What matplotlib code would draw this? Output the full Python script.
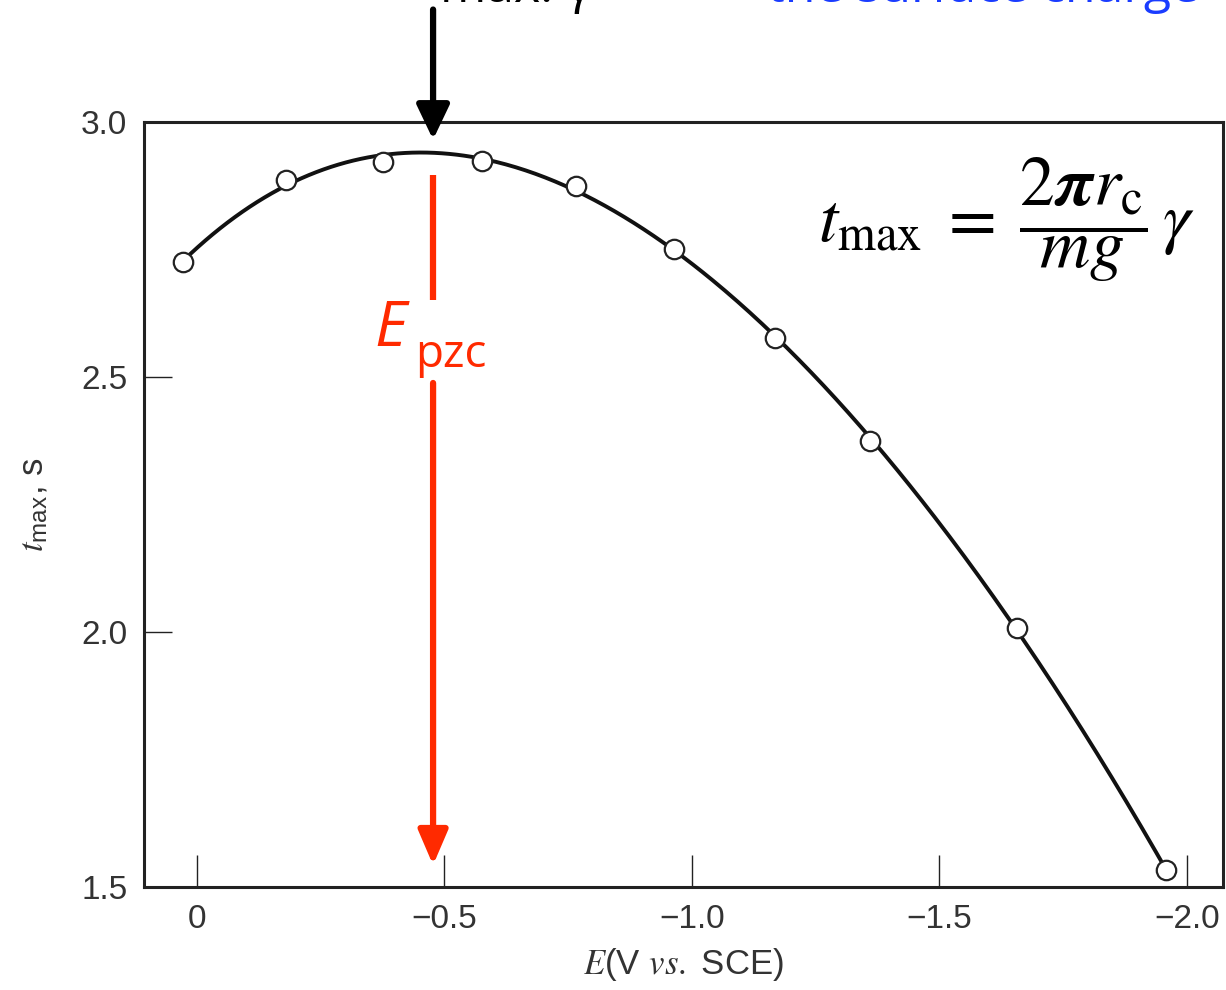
import numpy as np
import matplotlib
matplotlib.use("Agg")
import matplotlib.pyplot as plt

# data
E_vals = [0.028, -0.180, -0.376, -0.576, -0.766, -0.964, -1.168, -1.360, -1.657, -1.958]
t_vals = [2.725, 2.886, 2.922, 2.924, 2.875, 2.751, 2.576, 2.375, 2.008, 1.533]
x_ticks = [0, -0.5, -1.0, -1.5, -2.0]
x_tick_labels = ["0", "\u22120.5", "\u22121.0", "\u22121.5", "\u22122.0"]
y_ticks = [1.5, 2.0, 2.5, 3.0]
y_tick_labels = ["1.5", "2.0", "2.5", "3.0"]
E_pzc = -0.477

plt.rcParams['font.family'] = ['Liberation Sans', 'DejaVu Sans']
plt.rcParams['mathtext.fontset'] = 'stix'

fig = plt.figure(figsize=(12.26, 9.9), dpi=100)
ax = fig.add_axes([0.1175, 0.104, 0.880, 0.773])

# smooth fitted curve through the measured points
coef = np.polyfit(E_vals, t_vals, 4)
xs = np.linspace(E_vals[0], E_vals[-1], 400)
ax.plot(xs, np.polyval(coef, xs), color='#111111', lw=2.8, zorder=2)
ax.plot(E_vals, t_vals, 'o', ms=14, mfc='white', mec='#222222', mew=1.6, zorder=3)

ax.set_xlim(0.107, -2.073)
ax.set_ylim(1.5, 3.0)
ax.set_xticks(x_ticks)
ax.set_xticklabels(x_tick_labels)
ax.set_yticks(y_ticks)
ax.set_yticklabels(y_tick_labels)
ax.tick_params(axis='both', direction='in', colors='#222222', labelcolor='#333333',
               labelsize=24, width=1.0)
ax.tick_params(axis='y', length=20, pad=12)
ax.tick_params(axis='x', length=23, pad=12)
for s in ax.spines.values():
    s.set_linewidth(2.2)
    s.set_color('#222222')

ax.set_xlabel(r"$E$(V $vs.$ SCE)", fontsize=25, color='#333333', labelpad=8)
ax.set_ylabel(r"$t_{\mathregular{max}}$, s", fontsize=25, color='#333333', labelpad=22)

# formula
ax.text(0.799, 0.872, r"$t_{\mathrm{max}}\;=\;\dfrac{2\boldsymbol{\pi} r_{\mathrm{c}}}{mg}\,\gamma$",
        transform=ax.transAxes, fontsize=50, ha='center', va='center', color='black')

# black arrow from above to the maximum
ax.annotate("", xy=(E_pzc, 2.965), xytext=(E_pzc, 3.22), annotation_clip=False,
            arrowprops=dict(arrowstyle="-|>,head_length=1.05,head_width=0.5",
                            color='black', lw=4.5, mutation_scale=20,
                            shrinkA=0, shrinkB=0))

# red E_pzc marker
red = '#FF2A00'
ax.plot([E_pzc, E_pzc], [2.896, 2.651], color=red, lw=4.5, solid_capstyle='butt')
ax.annotate("", xy=(E_pzc, 1.543), xytext=(E_pzc, 2.488),
            arrowprops=dict(arrowstyle="-|>,head_length=1.05,head_width=0.45",
                            color=red, lw=4.5, mutation_scale=20,
                            shrinkA=0, shrinkB=0))
ax.text(E_pzc + 0.118, 2.561, "E", fontsize=45, fontstyle='italic', color=red,
        family=['Open Sans', 'DejaVu Sans'], ha='left', va='baseline')
ax.text(E_pzc + 0.037, 2.520, "pzc", fontsize=33, color=red,
        family=['Open Sans', 'DejaVu Sans'], ha='left', va='baseline')

# clipped text lines at the very top of the slide
fig.text(767 / 1226, 1 - 2 / 990, "the surface charge", fontsize=36, color='#1A3CFF',
         family=['Open Sans', 'DejaVu Sans'], ha='left', va='baseline')
fig.text(440 / 1226, 1 - 2 / 990, "max. \u03b3", fontsize=36, color='black',
         family=['Open Sans', 'DejaVu Sans'], ha='left', va='baseline')

fig.savefig("out.png", dpi=100, facecolor='white')
